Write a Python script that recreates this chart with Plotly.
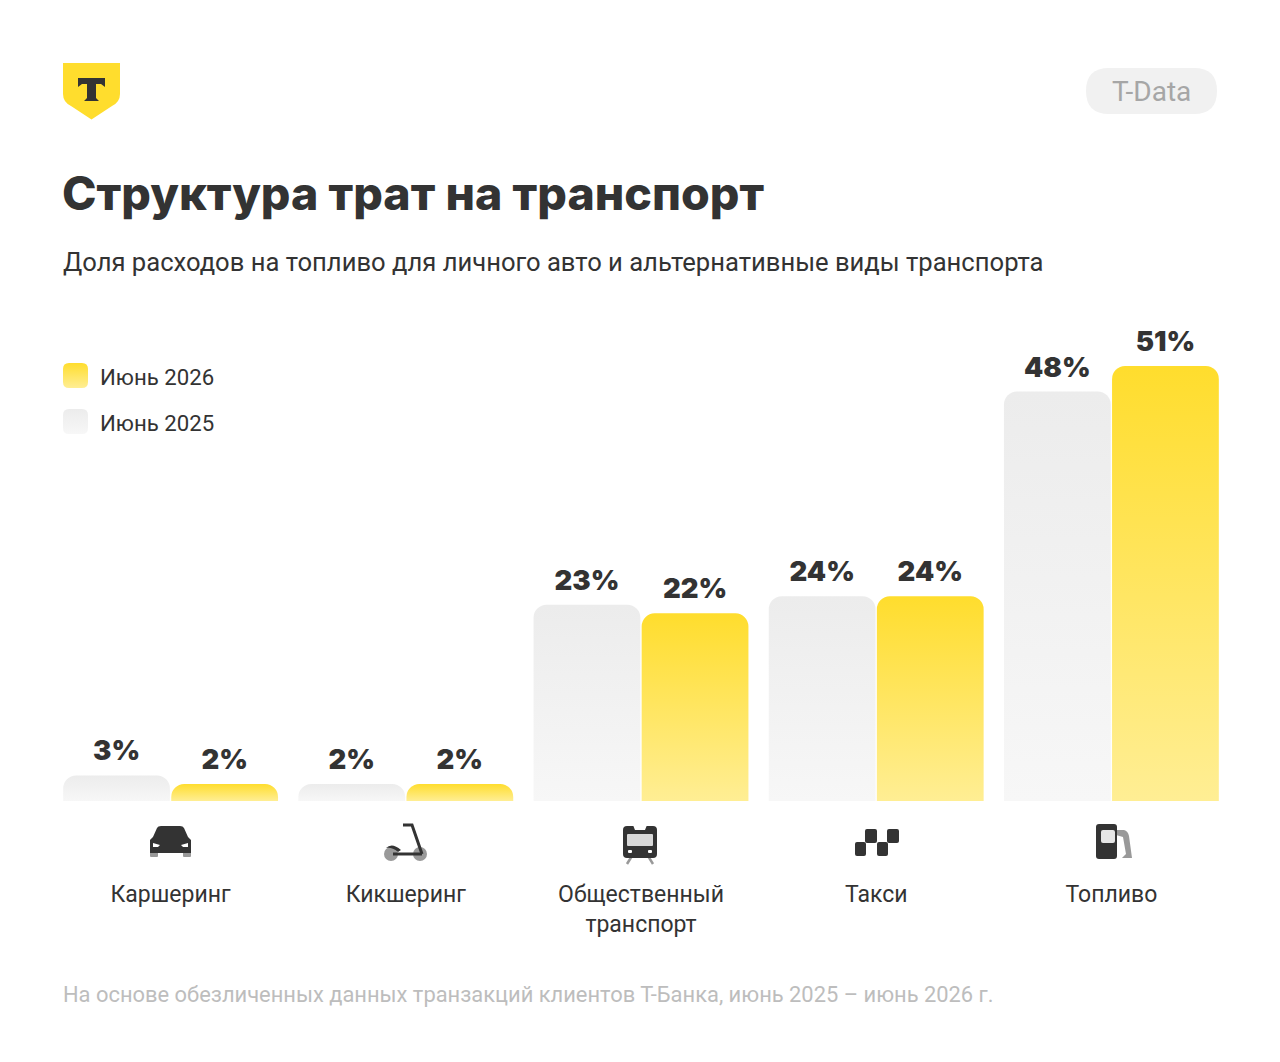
import plotly.graph_objects as go

W = 1280
H = 1062

categories = ["Каршеринг", "Кикшеринг", "Общественный<br>транспорт", "Такси", "Топливо"]
share_2025 = [3, 2, 23, 24, 48]
share_2026 = [2, 2, 22, 24, 51]
name_2025 = "Июнь 2025"
name_2026 = "Июнь 2026"

DARK = "#333333"
MID = "#999999"
YELLOW = "#FFDD2D"
FONT = "Inter"
TEXT_FONT = "Roboto"


def px(x):
    return x / W


def py(y):
    return 1 - y / H


# path given in page pixels, shapes want paper coords
def path(*parts):
    out = []
    for p in parts:
        if isinstance(p, str):
            out.append(p)
        else:
            out.append(f"{px(p[0]):.5f},{py(p[1]):.5f}")
    return " ".join(out)


def poly(points):
    s = ["M", points[0]]
    for p in points[1:]:
        s += ["L", p]
    s.append("Z")
    return path(*s)


def rrect(x0, y0, x1, y1, r):
    return path(
        "M", (x0 + r, y0), "L", (x1 - r, y0), "Q", (x1, y0), (x1, y0 + r),
        "L", (x1, y1 - r), "Q", (x1, y1), (x1 - r, y1),
        "L", (x0 + r, y1), "Q", (x0, y1), (x0, y1 - r),
        "L", (x0, y0 + r), "Q", (x0, y0), (x0 + r, y0), "Z",
    )


def shape(d, color):
    return dict(type="path", xref="paper", yref="paper", path=d, fillcolor=color, line_width=0, layer="above")


def circle(cx, cy, r, color):
    return dict(type="circle", xref="paper", yref="paper", x0=px(cx - r), x1=px(cx + r), y0=py(cy + r), y1=py(cy - r),
                fillcolor=color, line_width=0, layer="above")


def stroke(points, color, width):
    s = ["M", points[0]]
    for p in points[1:]:
        s += ["L", p]
    return dict(type="path", xref="paper", yref="paper", path=path(*s), line=dict(color=color, width=width), layer="above")


def label(x, y, text, size, color, anchor="left"):
    # annotations keep 1px border + 1px pad round the text
    return dict(xref="paper", yref="paper", x=px(x), y=py(y), text=text, showarrow=False, xanchor=anchor,
                yanchor="middle", xshift=-2 if anchor == "left" else 0, font=dict(family=TEXT_FONT, size=size, color=color))


shapes = [
    # legend swatches, must stay first two, the gradient is put on them by index
    shape(rrect(63, 363, 88, 388, 6), YELLOW),
    shape(rrect(63, 409, 88, 434, 6), "#EEEEEE"),
    # logo
    shape(path("M", (63, 63), "L", (120, 63), "L", (120, 94), "Q", (120, 102), (112, 106), "L", (91.5, 119.5),
               "L", (71, 106), "Q", (63, 102), (63, 94), "Z"), YELLOW),
    shape(poly([(78, 78), (105, 78), (105, 87), (101, 84), (96, 84), (96, 98), (99, 101), (84, 101), (87, 98),
                (87, 84), (82, 84), (78, 87)]), DARK),
    # T-Data pill
    shape(rrect(1086, 68, 1217, 114, 23), "#F1F1F1"),
    # car
    shape(rrect(150, 850, 158, 857, 1), MID),
    shape(rrect(183, 850, 191, 857, 1), MID),
    shape(path("M", (150, 840), "L", (153, 837), "L", (157, 828), "Q", (158, 826), (161, 826), "L", (180, 826),
               "Q", (183, 826), (184, 828), "L", (188, 837), "L", (191, 840), "L", (191, 853), "L", (150, 853), "Z"), DARK),
    shape(poly([(153, 843), (160, 845), (158, 847), (153, 847)]), "#FFFFFF"),
    shape(poly([(188, 843), (181, 845), (183, 847), (188, 847)]), "#FFFFFF"),
    # kick scooter
    circle(391, 854, 7, MID),
    circle(420, 854, 7, MID),
    stroke([(403, 825), (412, 825), (422, 854)], DARK, 3),
    stroke([(393, 854), (422, 854)], DARK, 3),
    shape(path("M", (386, 848), "Q", (392, 842), (401, 850), "L", (398, 852), "Q", (392, 847), (386, 848), "Z"), DARK),
    # public transport
    stroke([(632, 856), (627, 864)], MID, 2.5),
    stroke([(648, 856), (653, 864)], MID, 2.5),
    shape(rrect(623, 826, 657, 858, 4), DARK),
    shape(poly([(633, 825), (647, 825), (645, 830), (635, 830)]), "#FFFFFF"),
    shape(rrect(627, 834, 653, 846, 1), "#D8D8D8"),
    shape(rrect(628, 850, 632, 853, 1), "#FFFFFF"),
    shape(rrect(648, 850, 652, 853, 1), "#FFFFFF"),
    # taxi checks
    shape(rrect(865, 829, 877, 843, 2), DARK),
    shape(rrect(887, 829, 899, 843, 2), DARK),
    shape(rrect(855, 842, 866, 856, 2), DARK),
    shape(rrect(877, 842, 888, 856, 2), DARK),
    # fuel pump
    shape(path("M", (1116, 830), "L", (1124, 830), "Q", (1128, 831), (1129, 836), "L", (1132, 858), "L", (1122, 858),
               "L", (1126, 854), "L", (1123, 837), "L", (1116, 835), "Z"), MID),
    shape(rrect(1096, 824, 1117, 859, 3), DARK),
    shape(rrect(1101, 830, 1115, 843, 2), "#E6E6E6"),
]

annotations = [
    label(63, 262, "Доля расходов на топливо для личного авто и альтернативные виды транспорта", 25.6, DARK),
    label(100, 377, name_2026, 22.2, DARK),
    label(100, 423, name_2025, 22.2, DARK),
    label(1151.5, 91, "T-Data", 28, "#A6A6A6", anchor="center"),
    label(63, 994, "На основе обезличенных данных транзакций клиентов Т-Банка, июнь 2025 – июнь 2026 г.", 21.9, "#BDBDBD"),
]

fig = go.Figure()
fig.add_trace(go.Bar(x=categories, y=share_2025, name=name_2025, marker=dict(color="#EEEEEE", cornerradius=13, line_width=0),
                     text=[f"{v}%" for v in share_2025], textposition="outside", cliponaxis=False,
                     textfont=dict(family=FONT, size=27.5, color=DARK, weight=900), hoverinfo="skip"))
fig.add_trace(go.Bar(x=categories, y=share_2026, name=name_2026, marker=dict(color=YELLOW, cornerradius=13, line_width=0),
                     text=[f"{v}%" for v in share_2026], textposition="outside", cliponaxis=False,
                     textfont=dict(family=FONT, size=27.5, color=DARK, weight=900), hoverinfo="skip"))

fig.update_layout(
    width=W,
    height=H,
    autosize=False,
    margin=dict(l=0, r=0, t=0, b=0),
    paper_bgcolor="#FFFFFF",
    plot_bgcolor="#FFFFFF",
    barmode="group",
    bargap=0.081,
    bargroupgap=0.012,
    showlegend=False,
    title=dict(text="Структура трат на транспорт", x=px(62), y=py(194), xref="paper", yref="paper", xanchor="left",
               yanchor="middle", font=dict(family=FONT, size=46.5, color=DARK, weight=800)),
    shapes=shapes,
    annotations=annotations,
)
# 8.53 px per percent, baseline at y=801
fig.update_xaxes(domain=[px(53), px(1229)], range=[-0.5, 4.5], type="category", showline=False, showgrid=False,
                 ticks="", ticklabelstandoff=77, tickangle=0, tickfont=dict(family=TEXT_FONT, size=23, color=DARK))
fig.update_yaxes(domain=[py(801), py(801 - 60 * 8.53)], range=[0, 60], visible=False)

# bars and swatches get a vertical gradient, plotly has none for them
post_script = """
document.body.style.margin = '0';
var gd = document.getElementById('{plot_id}');
var svg = gd.querySelector('svg.main-svg');
var ns = 'http://www.w3.org/2000/svg';
var defs = document.createElementNS(ns, 'defs');
function grad(id, top, bottom) {
  var g = document.createElementNS(ns, 'linearGradient');
  g.setAttribute('id', id);
  g.setAttribute('x1', '0'); g.setAttribute('y1', '0'); g.setAttribute('x2', '0'); g.setAttribute('y2', '1');
  [[0, top], [1, bottom]].forEach(function (s) {
    var stop = document.createElementNS(ns, 'stop');
    stop.setAttribute('offset', s[0]);
    stop.setAttribute('stop-color', s[1]);
    g.appendChild(stop);
  });
  defs.appendChild(g);
}
grad('gradGrey', '#ECECEC', '#F7F7F7');
grad('gradYellow', '#FFDD2D', '#FFEE94');
svg.insertBefore(defs, svg.firstChild);
var traces = gd.querySelectorAll('.barlayer .trace');
traces[0].querySelectorAll('.point path').forEach(function (p) { p.style.fill = 'url(#gradGrey)'; });
traces[1].querySelectorAll('.point path').forEach(function (p) { p.style.fill = 'url(#gradYellow)'; });
gd.querySelectorAll('.barlayer .point text').forEach(function (t) {
  t.setAttribute('transform', 'translate(0,-5) ' + (t.getAttribute('transform') || ''));
});
gd.querySelectorAll('.shapelayer path[data-index="0"]').forEach(function (p) { p.style.fill = 'url(#gradYellow)'; p.style.fillOpacity = 1; });
gd.querySelectorAll('.shapelayer path[data-index="1"]').forEach(function (p) { p.style.fill = 'url(#gradGrey)'; p.style.fillOpacity = 1; });
"""

fig.write_html("out.html", post_script=post_script, config=dict(displayModeBar=False))
